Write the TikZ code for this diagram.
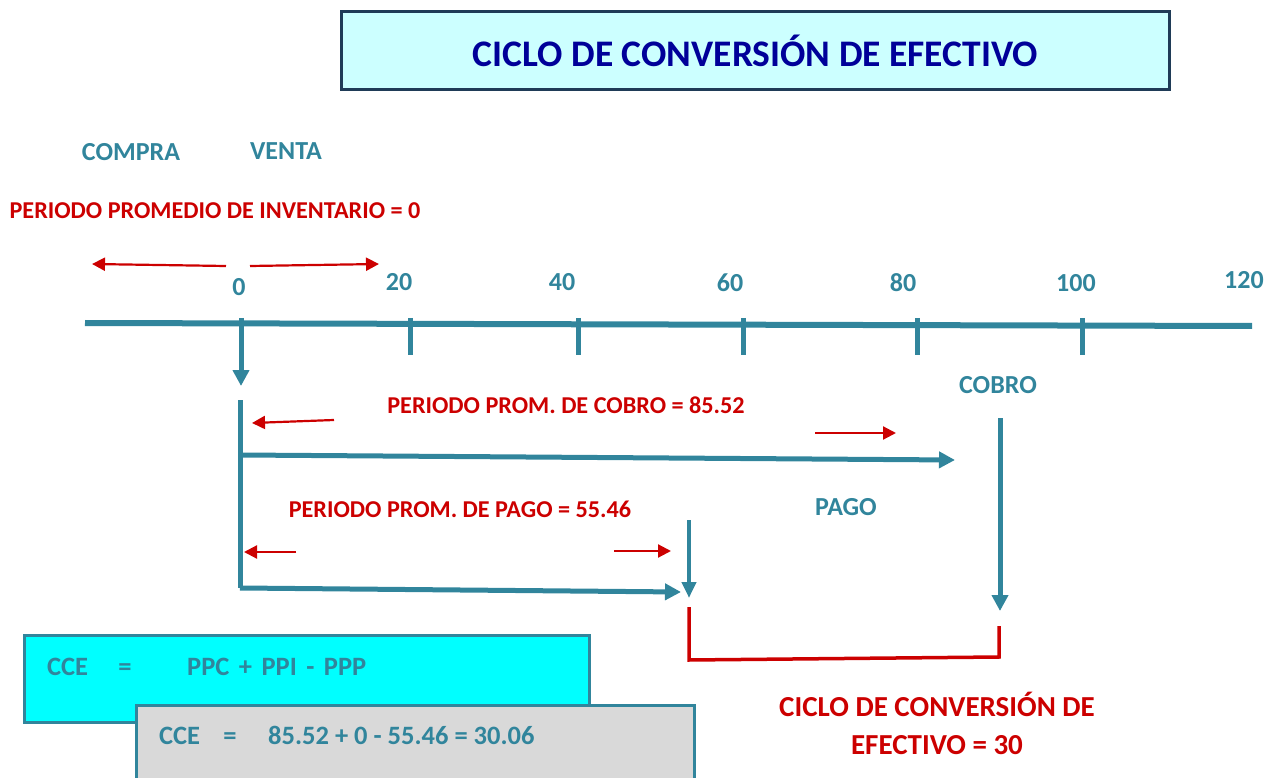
\documentclass[tikz,border=0pt]{standalone}
\usepackage{fontspec}
\setmainfont{Carlito}
\usetikzlibrary{arrows.meta}
\definecolor{teal}{HTML}{31859C}
\definecolor{redc}{HTML}{CC0000}
\definecolor{navy}{HTML}{000099}
\definecolor{titlefill}{HTML}{CCFFFF}
\definecolor{titledraw}{HTML}{1F3B57}
\definecolor{cyanfill}{HTML}{00FFFF}
\definecolor{grayfill}{HTML}{D9D9D9}
\tikzset{
  tlabel/.style={text=teal,font=\fontsize{26}{30}\selectfont\bfseries,inner sep=0pt},
  rlabel/.style={text=redc,font=\fontsize{24.2}{28}\selectfont\bfseries,inner sep=0pt},
  flabel/.style={text=teal,font=\fontsize{26.5}{30}\selectfont\bfseries,inner sep=0pt},
  axisline/.style={draw=teal,line width=6pt},
  tick/.style={draw=teal,line width=5pt},
  tarrow/.style={draw=teal,line width=5pt,-{Triangle[length=16pt,width=16pt]}},
  tarrowthin/.style={draw=teal,line width=4pt,-{Triangle[length=16pt,width=14pt]}},
  rarrow/.style={draw=redc,line width=2.2pt,-{Triangle[length=13pt,width=13pt]}},
  bracket/.style={draw=redc,line width=3.5pt},
}
\newcommand{\gapsp}{\hspace{9.5pt}}
\begin{document}
\begin{tikzpicture}[x=1pt,y=-1pt]
\useasboundingbox (0,0) rectangle (1278,778);
% title
\node[draw=titledraw,line width=3pt,fill=titlefill,minimum width=828pt,minimum height=78pt,
  text=navy,font=\fontsize{37.5}{40}\selectfont\bfseries] (title) at (755.5,51) {CICLO DE CONVERSIÓN DE EFECTIVO};
% top labels
\node[tlabel] (compra) at (131,152) {COMPRA};
\node[tlabel] (venta) at (286,151) {VENTA};
\node[rlabel] (ppi) at (215,211) {PERIODO PROMEDIO DE INVENTARIO = 0};
\coordinate (ia1) at (226,266); \coordinate (ia2) at (92,264);
\coordinate (ib1) at (250,266); \coordinate (ib2) at (379,264);
\draw[rarrow] (ia1) -- (ia2);
\draw[rarrow] (ib1) -- (ib2);
% axis
\coordinate (axL) at (85,323); \coordinate (axR) at (1252,326);
\draw[axisline] (axL) -- (axR);
\foreach \x/\n in {410/a,578/b,743/c,917/d,1082/e}{
  \coordinate (t\n1) at (\x,318); \coordinate (t\n2) at (\x,355);
  \draw[tick] (t\n1) -- (t\n2);
}
\node[tlabel] (l0) at (239,287) {0};
\node[tlabel] (l20) at (399,282) {20};
\node[tlabel] (l40) at (562,282) {40};
\node[tlabel] (l60) at (730,283) {60};
\node[tlabel] (l80) at (903,283) {80};
\node[tlabel] (l100) at (1076,283) {100};
\node[tlabel] (l120) at (1244,280) {120};
% zero down arrow
\coordinate (z1) at (241,318); \coordinate (z2) at (241,386);
\draw[tarrow] (z1) -- (z2);
% cobro
\node[tlabel] (cobro) at (998,385) {COBRO};
\coordinate (c1) at (1000,418); \coordinate (c2) at (1000,611);
\draw[tarrow] (c1) -- (c2);
% vertical + horizontal arrows
\coordinate (v1) at (240,400); \coordinate (v2) at (240,455); \coordinate (v3) at (240,588);
\coordinate (h1) at (955,460); \coordinate (h2) at (681,592);
\draw[draw=teal,line width=5pt] (v1) -- (v3);
\draw[tarrow] (v2) -- (h1);
\draw[tarrow] (v3) -- (h2);
% cobro label + arrows
\node[rlabel] (ppc) at (566,405) {PERIODO PROM. DE COBRO = 85.52};
\coordinate (ca1) at (334,420); \coordinate (ca2) at (252,423);
\coordinate (cb1) at (815,433); \coordinate (cb2) at (896,433);
\draw[rarrow] (ca1) -- (ca2);
\draw[rarrow] (cb1) -- (cb2);
% pago
\node[rlabel] (ppp) at (460,509) {PERIODO PROM. DE PAGO = 55.46};
\coordinate (pa1) at (296,552); \coordinate (pa2) at (244,552);
\coordinate (pb1) at (614,551); \coordinate (pb2) at (671,551);
\draw[rarrow] (pa1) -- (pa2);
\draw[rarrow] (pb1) -- (pb2);
\node[tlabel] (pago) at (846,507) {PAGO};
\coordinate (p1) at (689,520); \coordinate (p2) at (689,598);
\draw[tarrowthin] (p1) -- (p2);
% red bracket
\coordinate (b1) at (689,607); \coordinate (b2) at (689,660);
\coordinate (b3) at (999,657); \coordinate (b4) at (999,626);
\draw[bracket] (b1) -- (b2) -- (b3) -- (b4);
% result
\node[rlabel,font=\fontsize{29}{38}\selectfont\bfseries,align=center] (cce) at (937,723)
  {CICLO DE CONVERSIÓN DE\\EFECTIVO = 30};
% formula boxes
\node[draw=teal,line width=3pt,fill=cyanfill,minimum width=565pt,minimum height=87pt] (box1) at (306.5,678.5) {};
\node[flabel,anchor=base west] (f1a) at (47,675) {CCE};
\node[flabel,anchor=base] (f1b) at (125,675) {=};
\node[flabel,anchor=base west] (f1c) at (187,675) {PPC\gapsp+\gapsp PPI\gapsp-\gapsp PPP};
\node[draw=teal,line width=3pt,fill=grayfill,minimum width=558pt,minimum height=100pt] (box2) at (415,755) {};
\node[flabel,anchor=base west] (f2a) at (159,744) {CCE};
\node[flabel,anchor=base] (f2b) at (230,744) {=};
\node[flabel,anchor=base west] (f2c) at (268,744) {85.52 + 0 - 55.46 = 30.06};
\end{tikzpicture}
\end{document}
